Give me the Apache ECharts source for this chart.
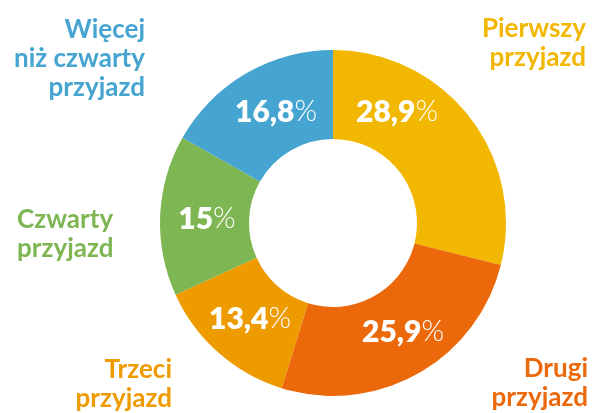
<!DOCTYPE html>
<html>
<head>
<meta charset="utf-8">
<script src="https://cdn.jsdelivr.net/npm/echarts@6/dist/echarts.min.js"></script>
<style>
html, body { margin: 0; padding: 0; background: #fff; }
#chart { width: 594px; height: 413px; }
</style>
</head>
<body>
<div id="chart"></div>
<script>
/* dane */
var categories = ['Pierwszy przyjazd', 'Drugi przyjazd', 'Trzeci przyjazd', 'Czwarty przyjazd', 'Więcej niż czwarty przyjazd'];
var shares = [28.9, 25.9, 13.4, 15, 16.8];
var shareLabels = ['28,9', '25,9', '13,4', '15', '16,8'];
var nameLabels = ['Pierwszy\nprzyjazd', 'Drugi\nprzyjazd', 'Trzeci\nprzyjazd', 'Czwarty\nprzyjazd', 'Więcej\nniż czwarty\nprzyjazd'];
var colors = ['#F2B700', '#EB690B', '#EE9B00', '#7EB653', '#45A5D0'];

// pozycje etykiet
var innerPos = [[397, 112], [403, 332], [250, 319], [207, 219], [276, 112]];
var outerPos = [[586, 14, 'right'], [588, 354, 'right'], [172, 355, 'right'], [17, 205, 'left'], [145, 15, 'right']];

var FONT = 'Lato, "Open Sans", sans-serif';

var pieData = categories.map(function (c, i) {
	return { name: c, value: shares[i], itemStyle: { color: colors[i] } };
});
var labelData = categories.map(function (c, i) {
	return {
		name: c, value: shares[i],
		itemStyle: { color: 'rgba(0,0,0,0)' },
		label: { color: colors[i] }
	};
});

var chart = echarts.init(document.getElementById('chart'));
chart.setOption({
	animation: false,
	series: [
		{
			type: 'pie',
			center: [333, 223],
			radius: [84, 173],
			startAngle: 90,
			data: pieData,
			label: {
				show: true,
				position: 'inside',
				formatter: function (p) {
					return '{v|' + shareLabels[p.dataIndex] + '}{p|%}';
				},
				rich: {
					v: { color: '#fff', fontFamily: FONT, fontWeight: 800, fontSize: 30 },
					p: { color: '#fff', fontFamily: FONT, fontWeight: 300, fontSize: 29 }
				}
			},
			labelLayout: function (params) {
				var p = innerPos[params.dataIndex];
				return { x: p[0], y: p[1], align: 'center', verticalAlign: 'middle' };
			}
		},
		{
			type: 'pie',
			center: [333, 223],
			radius: [84, 173],
			startAngle: 90,
			silent: true,
			data: labelData,
			label: {
				show: true,
				position: 'outside',
				overflow: 'none',
				formatter: function (p) {
					return nameLabels[p.dataIndex];
				},
				fontFamily: FONT,
				fontWeight: 'bold',
				fontSize: 26,
				lineHeight: 29
			},
			labelLine: { show: false },
			labelLayout: function (params) {
				var p = outerPos[params.dataIndex];
				return { x: p[0], y: p[1], align: p[2], verticalAlign: 'top' };
			}
		}
	]
});
</script>
</body>
</html>
